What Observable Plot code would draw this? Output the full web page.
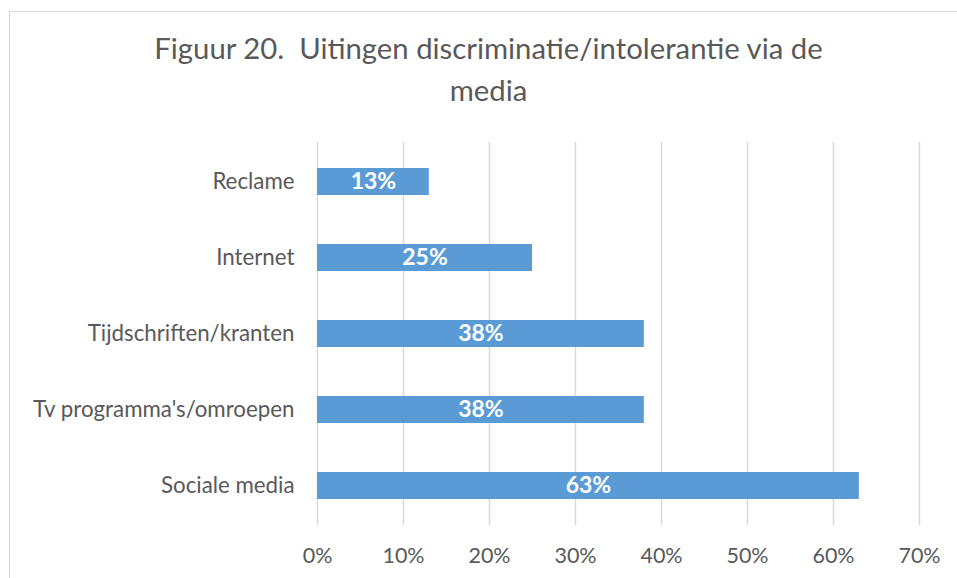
<!DOCTYPE html>
<html>
<head>
<meta charset="utf-8">
<script src="https://cdn.jsdelivr.net/npm/d3@7"></script>
<script src="https://cdn.jsdelivr.net/npm/@observablehq/plot@0.6"></script>
<style>
  html, body { margin: 0; padding: 0; background: #fff; }
  body { width: 957px; height: 578px; position: relative; overflow: hidden; font-family: Lato, "Open Sans", sans-serif; }
  #frame { position: absolute; left: 9px; top: 11px; width: 960px; height: 580px; border-left: 1.5px solid #d9d9d9; border-top: 1.5px solid #d9d9d9; }
  #title { position: absolute; left: 0; width: 977px; top: 27px; text-align: center; font-size: 29.3px; line-height: 42px; color: #595959; }
  #chart { position: absolute; left: 0; top: 0; }
</style>
</head>
<body>
<div id="frame"></div>
<div id="chart"></div>
<div id="title">Figuur 20.&nbsp; Uitingen discriminatie/intolerantie via de<br>media</div>
<script>
const categories = ["Reclame", "Internet", "Tijdschriften/kranten", "Tv programma's/omroepen", "Sociale media"];
const values = [13, 25, 38, 38, 63];
const xTicks = [0, 10, 20, 30, 40, 50, 60, 70];

const data = categories.map((c, i) => ({category: c, value: values[i]}));

const chart = Plot.plot({
  width: 957,
  height: 578,
  marginLeft: 317,
  marginRight: 38,
  marginTop: 142,
  marginBottom: 53,
  style: {fontFamily: "Lato, 'Open Sans', sans-serif", fontSize: "21px", color: "#595959", background: "transparent"},
  x: {domain: [0, 70], ticks: xTicks, tickFormat: d => d + "%", tickSize: 0, tickPadding: 22, label: null},
  y: {domain: categories, paddingInner: 0.65, paddingOuter: 0.325, tickSize: 0, tickPadding: 23, label: null},
  marks: [
    Plot.ruleX(xTicks, {stroke: "#d9d9d9", strokeWidth: 1.5}),
    Plot.barX(data, {x: "value", y: "category", fill: "#5b9bd5"}),
    Plot.text(data, {x: d => d.value / 2, y: "category", text: d => d.value + "%", fill: "white", fontWeight: "bold", fontSize: 23}),
    Plot.axisX({ticks: xTicks, tickFormat: d => d + "%", tickSize: 0, tickPadding: 22, fontSize: 21.5, color: "#595959"}),
    Plot.axisY({tickSize: 0, tickPadding: 23, fontSize: 22.3, color: "#595959"})
  ]
});
document.getElementById("chart").appendChild(chart);
</script>
</body>
</html>
